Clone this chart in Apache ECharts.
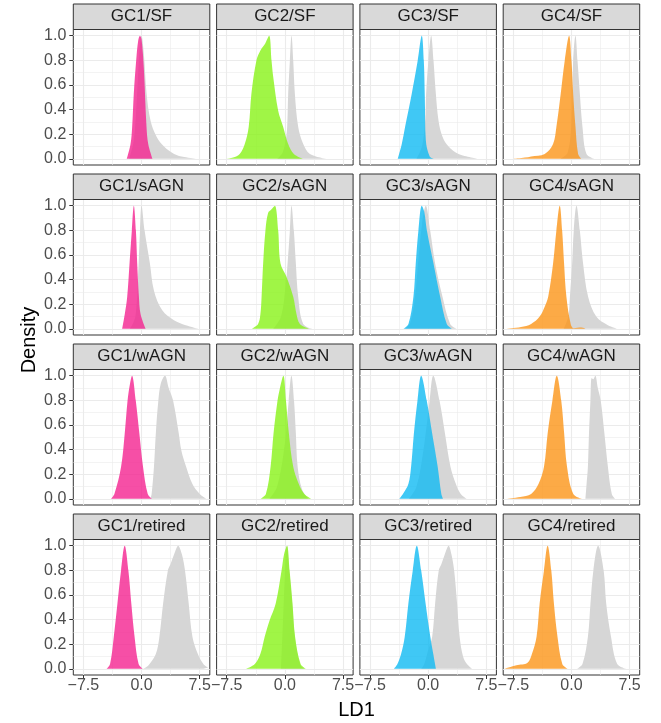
<!DOCTYPE html>
<html><head><meta charset="utf-8">
<script src="https://cdn.jsdelivr.net/npm/echarts@6/dist/echarts.min.js"></script>
<style>html,body{margin:0;padding:0;background:#fff}#c{width:661px;height:723px}</style>
</head><body><div id="c"></div>
<script>
const groups = ['GC1','GC2','GC3','GC4'];
const classes = ['SF','sAGN','wAGN','retired'];
const xTicks = [-7.5, 0, 7.5];
const xMinor = [-3.75, 3.75];
const yTicks = [0, 0.2, 0.4, 0.6, 0.8, 1.0];
const yMinor = [0.1, 0.3, 0.5, 0.7, 0.9];

// [LD1, scaled density] — coloured group and grey comparison curves
const gc1_sf = [[-1.9,0],[-1.42,0.12],[-1.21,0.26],[-1.0,0.53],[-0.69,0.8],[-0.43,0.96],[-0.2,1.0],[0.0,0.97],[0.3,0.73],[0.64,0.26],[0.86,0.12],[1.4,0]];
const gc1_sf_bg = [[-1.6,0],[-1.0,0.15],[-0.6,0.5],[-0.3,0.85],[0,1.0],[0.3,0.85],[0.65,0.53],[1.16,0.31],[1.94,0.18],[2.9,0.1],[4.2,0.04],[5.5,0.015],[7.2,0]];
const gc2_sf = [[-7.54,0],[-6.68,0.01],[-5.82,0.04],[-5.17,0.12],[-4.66,0.26],[-4.31,0.53],[-3.66,0.8],[-3.15,0.88],[-2.59,0.93],[-2.03,1.0],[-1.72,0.8],[-1.51,0.67],[-0.86,0.39],[-0.22,0.26],[0.43,0.12],[1.16,0.04],[2.37,0]];
const gc2_sf_bg = [[-1.0,0],[-0.3,0.05],[0.1,0.15],[0.3,0.26],[0.43,0.53],[0.65,0.8],[0.86,1.0],[1.08,0.8],[1.29,0.53],[1.72,0.26],[2.37,0.12],[3.23,0.04],[5.4,0]];
const gc3_sf = [[-3.92,0],[-3.4,0.12],[-2.97,0.26],[-2.11,0.53],[-1.34,0.8],[-0.82,1.0],[-0.56,0.8],[-0.43,0.5],[-0.3,0.15],[0.2,0.02],[0.8,0]];
const gc3_sf_bg = [[-1.5,0],[-0.8,0.1],[-0.4,0.3],[-0.26,0.53],[0.04,0.8],[0.39,1.0],[0.69,0.8],[0.99,0.53],[1.34,0.31],[1.85,0.18],[2.63,0.1],[3.92,0.04],[6.5,0]];
const gc4_sf = [[-7.5,0],[-6.0,0.01],[-5.2,0.02],[-3.45,0.04],[-2.37,0.12],[-1.94,0.26],[-1.38,0.53],[-0.86,0.8],[-0.3,1.0],[0.0,0.8],[0.22,0.53],[0.52,0.26],[0.86,0.04],[1.3,0]];
const gc4_sf_bg = [[-1.5,0],[-0.5,0.05],[0,0.3],[0.22,0.8],[0.52,1.0],[0.78,0.8],[1.08,0.53],[1.42,0.26],[1.94,0.04],[3.0,0]];

const gc1_sagn = [[-2.5,0],[-2.16,0.12],[-1.85,0.26],[-1.55,0.53],[-1.25,0.8],[-0.99,1.0],[-0.73,0.8],[-0.56,0.53],[-0.34,0.26],[-0.13,0.12],[0.52,0]];
const gc1_sagn_bg = [[-1.5,0],[-0.8,0.1],[-0.4,0.5],[-0.2,0.8],[0,1.0],[0.39,0.8],[1.08,0.53],[1.6,0.31],[2.67,0.15],[4.18,0.07],[5.7,0.03],[7.4,0]];
const gc2_sagn = [[-4.3,0],[-3.45,0.04],[-3.15,0.12],[-3.0,0.26],[-2.8,0.53],[-2.5,0.8],[-2.16,0.94],[-1.72,0.97],[-1.29,1.0],[-0.86,0.8],[-0.56,0.53],[0.22,0.42],[1.08,0.26],[1.5,0.12],[1.94,0.04],[3.2,0]];
const gc2_sagn_bg = [[-1.5,0],[-0.5,0.1],[0.1,0.35],[0.35,0.53],[0.65,0.8],[0.86,1.0],[1.16,0.8],[1.42,0.53],[1.72,0.26],[2.37,0.04],[3.6,0]];
const gc3_sagn = [[-3.2,0],[-2.54,0.04],[-1.9,0.26],[-1.6,0.53],[-1.25,0.8],[-0.82,1.0],[-0.5,0.95],[-0.17,0.8],[0.69,0.53],[1.55,0.26],[2.4,0.04],[3.1,0]];
const gc3_sagn_bg = [[-3.0,0],[-2.3,0.05],[-1.7,0.26],[-1.3,0.53],[-0.8,0.85],[-0.3,1.0],[0.26,0.8],[0.9,0.53],[1.85,0.26],[2.84,0.04],[3.7,0]];
const gc4_sagn = [[-8.6,0],[-6.5,0.015],[-5.2,0.04],[-4.1,0.1],[-3.45,0.18],[-3.0,0.26],[-2.37,0.53],[-1.94,0.8],[-1.51,1.0],[-1.2,0.8],[-0.95,0.53],[-0.65,0.26],[-0.1,0.04],[0.3,0.005],[1.3,0.01],[1.8,0]];
const gc4_sagn_bg = [[-1.0,0],[-0.4,0.1],[-0.2,0.26],[0.09,0.53],[0.3,0.8],[0.65,1.0],[1.08,0.8],[1.5,0.53],[2.15,0.26],[3.2,0.1],[4.7,0.03],[6.0,0]];

const gc1_wagn = [[-3.96,0],[-3.5,0.04],[-2.64,0.26],[-2.17,0.53],[-1.8,0.8],[-1.5,0.93],[-1.23,1.0],[-0.75,0.8],[-0.28,0.53],[0.19,0.26],[0.8,0.04],[1.37,0]];
const gc1_wagn_bg = [[1.13,0],[1.3,0.04],[1.6,0.26],[1.84,0.53],[2.17,0.8],[2.5,0.94],[3.02,1.0],[3.5,0.9],[4.06,0.8],[4.8,0.53],[5.14,0.39],[5.75,0.26],[6.56,0.12],[7.5,0.04],[8.4,0]];
const gc2_wagn = [[-3.16,0],[-2.45,0.04],[-1.84,0.26],[-1.46,0.53],[-0.94,0.8],[-0.7,0.88],[-0.19,1.0],[0.14,0.8],[0.52,0.53],[1.08,0.26],[1.8,0.12],[2.5,0.04],[3.44,0]];
const gc2_wagn_bg = [[-2.0,0],[-1.0,0.1],[0,0.45],[0.5,0.8],[0.85,1.0],[1.18,0.8],[1.42,0.53],[1.65,0.26],[2.2,0.08],[3.0,0]];
const gc3_wagn = [[-3.73,0],[-3.25,0.04],[-2.55,0.12],[-2.2,0.26],[-1.84,0.53],[-1.37,0.8],[-0.9,1.0],[-0.19,0.8],[0.52,0.53],[1.23,0.26],[1.7,0.04],[1.93,0]];
const gc3_wagn_bg = [[-2.5,0],[-1.5,0.1],[-0.6,0.4],[0,0.7],[0.19,0.8],[0.66,1.0],[1.46,0.8],[2.17,0.53],[2.88,0.26],[3.58,0.12],[4.2,0.04],[5.0,0]];
const gc4_wagn = [[-8.5,0],[-6.6,0.015],[-5.2,0.04],[-4.25,0.12],[-3.54,0.26],[-3.07,0.53],[-2.45,0.8],[-1.89,1.0],[-1.32,0.8],[-0.94,0.53],[-0.57,0.26],[0.24,0.04],[1.4,0]];
const gc4_wagn_bg = [[1.8,0],[1.95,0.12],[2.12,0.26],[2.26,0.53],[2.45,0.8],[2.6,0.98],[2.8,0.97],[3.07,1.0],[3.4,0.9],[3.77,0.8],[4.25,0.53],[4.7,0.26],[5.2,0.04],[5.66,0]];

const gc1_ret = [[-4.53,0],[-4.06,0.04],[-3.58,0.26],[-3.11,0.53],[-2.64,0.8],[-2.17,1.0],[-1.7,0.8],[-1.32,0.53],[-0.9,0.26],[-0.38,0.04],[0.19,0]];
const gc1_ret_bg = [[0.19,0],[0.9,0.03],[1.84,0.12],[2.3,0.26],[2.78,0.53],[3.4,0.8],[3.73,0.85],[4.2,0.93],[4.72,1.0],[5.2,0.93],[5.6,0.8],[6.08,0.53],[6.56,0.26],[7.26,0.12],[7.97,0.04],[8.6,0.01]];
const gc2_ret = [[-5.05,0],[-3.87,0.04],[-3.16,0.12],[-2.6,0.26],[-1.98,0.39],[-1.18,0.53],[-0.42,0.8],[-0.1,0.93],[0.28,1.0],[0.61,0.8],[0.99,0.53],[1.32,0.26],[2.03,0.04],[2.74,0]];
const gc2_ret_bg = [[-0.5,0],[-0.3,0.3],[0,0.75],[0.28,1.0],[0.6,0.78],[0.99,0.5],[1.32,0.24],[2.0,0.03],[2.6,0]];
const gc3_ret = [[-4.43,0],[-3.96,0.04],[-3.49,0.12],[-3.02,0.26],[-2.55,0.53],[-1.98,0.8],[-1.46,1.0],[-0.9,0.8],[-0.33,0.53],[0.28,0.26],[0.66,0.12],[1.0,0]];
const gc3_ret_bg = [[-0.9,0],[-0.5,0.04],[0,0.15],[0.52,0.26],[0.9,0.53],[1.37,0.8],[1.7,0.85],[2.15,0.93],[2.64,1.0],[3.0,0.93],[3.35,0.8],[3.73,0.53],[4.06,0.26],[4.5,0.1],[5.0,0.04],[5.7,0]];
const gc4_ret = [[-8.7,0],[-7.1,0.03],[-5.66,0.05],[-5.1,0.12],[-4.5,0.26],[-4.1,0.53],[-3.54,0.8],[-3.07,1.0],[-2.6,0.8],[-2.26,0.53],[-1.8,0.26],[-1.18,0.04],[-0.47,0]];
const gc4_ret_bg = [[0.7,0],[1.42,0.04],[2.12,0.26],[2.45,0.53],[2.83,0.8],[3.44,1.0],[4.15,0.8],[4.48,0.53],[5.1,0.26],[5.9,0.04],[7.1,0]];

const panels = [
  [[gc1_sf, gc1_sf_bg], [gc2_sf, gc2_sf_bg], [gc3_sf, gc3_sf_bg], [gc4_sf, gc4_sf_bg]],
  [[gc1_sagn, gc1_sagn_bg], [gc2_sagn, gc2_sagn_bg], [gc3_sagn, gc3_sagn_bg], [gc4_sagn, gc4_sagn_bg]],
  [[gc1_wagn, gc1_wagn_bg], [gc2_wagn, gc2_wagn_bg], [gc3_wagn, gc3_wagn_bg], [gc4_wagn, gc4_wagn_bg]],
  [[gc1_ret, gc1_ret_bg], [gc2_ret, gc2_ret_bg], [gc3_ret, gc3_ret_bg], [gc4_ret, gc4_ret_bg]]
];

const groupColors = ['#F42390', '#88F218', '#10BAF2', '#FB9518'];
const greyColor = '#D6D6D6';
const FONT = '"Liberation Sans", Arial, Helvetica, sans-serif';

const L0 = 73.3, PX = 143.3, W = 136.5, T0 = 29.5, PY = 170, H = 135.5, SH = 25.5;

const grid = [], xAxis = [], yAxis = [], series = [], graphic = [];
const fmtX = v => (v < 0 ? '\u2212' : '') + Math.abs(v).toFixed(1);

for (let r = 0; r < 4; r++) {
  for (let c = 0; c < 4; c++) {
    const i = r * 4 + c;
    const left = L0 + c * PX, top = T0 + r * PY;
    grid.push({left, top, width: W, height: H, show: true, borderColor: '#333333', borderWidth: 1, backgroundColor: '#ffffff'});
    xAxis.push({
      gridIndex: i, type: 'value', min: -8.8, max: 8.8,
      axisLine: {show: false, onZero: false},
      splitLine: {show: false},
      axisTick: {show: r === 3, customValues: xTicks, length: 4, lineStyle: {color: '#333333', width: 1}},
      axisLabel: {show: r === 3, customValues: xTicks, formatter: fmtX, fontSize: 16, color: '#4D4D4D', margin: 3, fontFamily: FONT}
    });
    yAxis.push({
      gridIndex: i, type: 'value', min: -0.05, max: 1.05,
      axisLine: {show: false, onZero: false},
      splitLine: {show: false},
      axisTick: {show: c === 0, customValues: yTicks, length: 4, lineStyle: {color: '#333333', width: 1}},
      axisLabel: {show: c === 0, customValues: yTicks, formatter: v => v.toFixed(1), fontSize: 16, color: '#4D4D4D', margin: 7, fontFamily: FONT}
    });
    const gl = [];
    xTicks.forEach(v => gl.push({xAxis: v, lineStyle: {width: 1.1}}));
    xMinor.forEach(v => gl.push({xAxis: v, lineStyle: {width: 0.6}}));
    yTicks.forEach(v => gl.push({yAxis: v, lineStyle: {width: 1.1}}));
    yMinor.forEach(v => gl.push({yAxis: v, lineStyle: {width: 0.6}}));
    series.push({
      type: 'line', xAxisIndex: i, yAxisIndex: i, data: [], z: 1, silent: true,
      markLine: {silent: true, z: 1, symbol: ['none', 'none'], label: {show: false}, animation: false,
        lineStyle: {color: '#EBEBEB', type: 'solid'}, emphasis: {disabled: true}, data: gl}
    });
    const [col, bg] = panels[r][c];
    series.push({
      type: 'line', xAxisIndex: i, yAxisIndex: i, data: bg, smooth: 0.35, showSymbol: false, z: 2, silent: true,
      lineStyle: {width: 0}, areaStyle: {color: greyColor, opacity: 1}
    });
    series.push({
      type: 'line', xAxisIndex: i, yAxisIndex: i, data: col, smooth: 0.35, showSymbol: false, z: 3, silent: true,
      lineStyle: {width: 0}, areaStyle: {color: groupColors[c], opacity: 0.8}
    });
    graphic.push({
      type: 'rect', shape: {x: left, y: top - SH, width: W, height: SH},
      style: {fill: '#D9D9D9', stroke: '#333333', lineWidth: 1}, z: 10
    });
    graphic.push({
      type: 'text', x: left + W / 2, y: top - SH / 2,
      style: {text: groups[c] + '/' + classes[r], fill: '#1A1A1A', font: '17px ' + FONT, align: 'center', verticalAlign: 'middle'}, z: 11
    });
  }
}
graphic.push({type: 'text', x: L0 + (3 * PX + W) / 2, y: 710,
  style: {text: 'LD1', fill: '#000000', font: '20px ' + FONT, align: 'center', verticalAlign: 'middle'}});
graphic.push({type: 'text', x: 29, y: 340, rotation: Math.PI / 2,
  style: {text: 'Density', fill: '#000000', font: '20px ' + FONT, align: 'center', verticalAlign: 'middle'}});

const chart = echarts.init(document.getElementById('c'), null, {renderer: 'canvas'});
chart.setOption({animation: false, backgroundColor: '#ffffff', grid, xAxis, yAxis, series, graphic});
</script>
</body></html>
